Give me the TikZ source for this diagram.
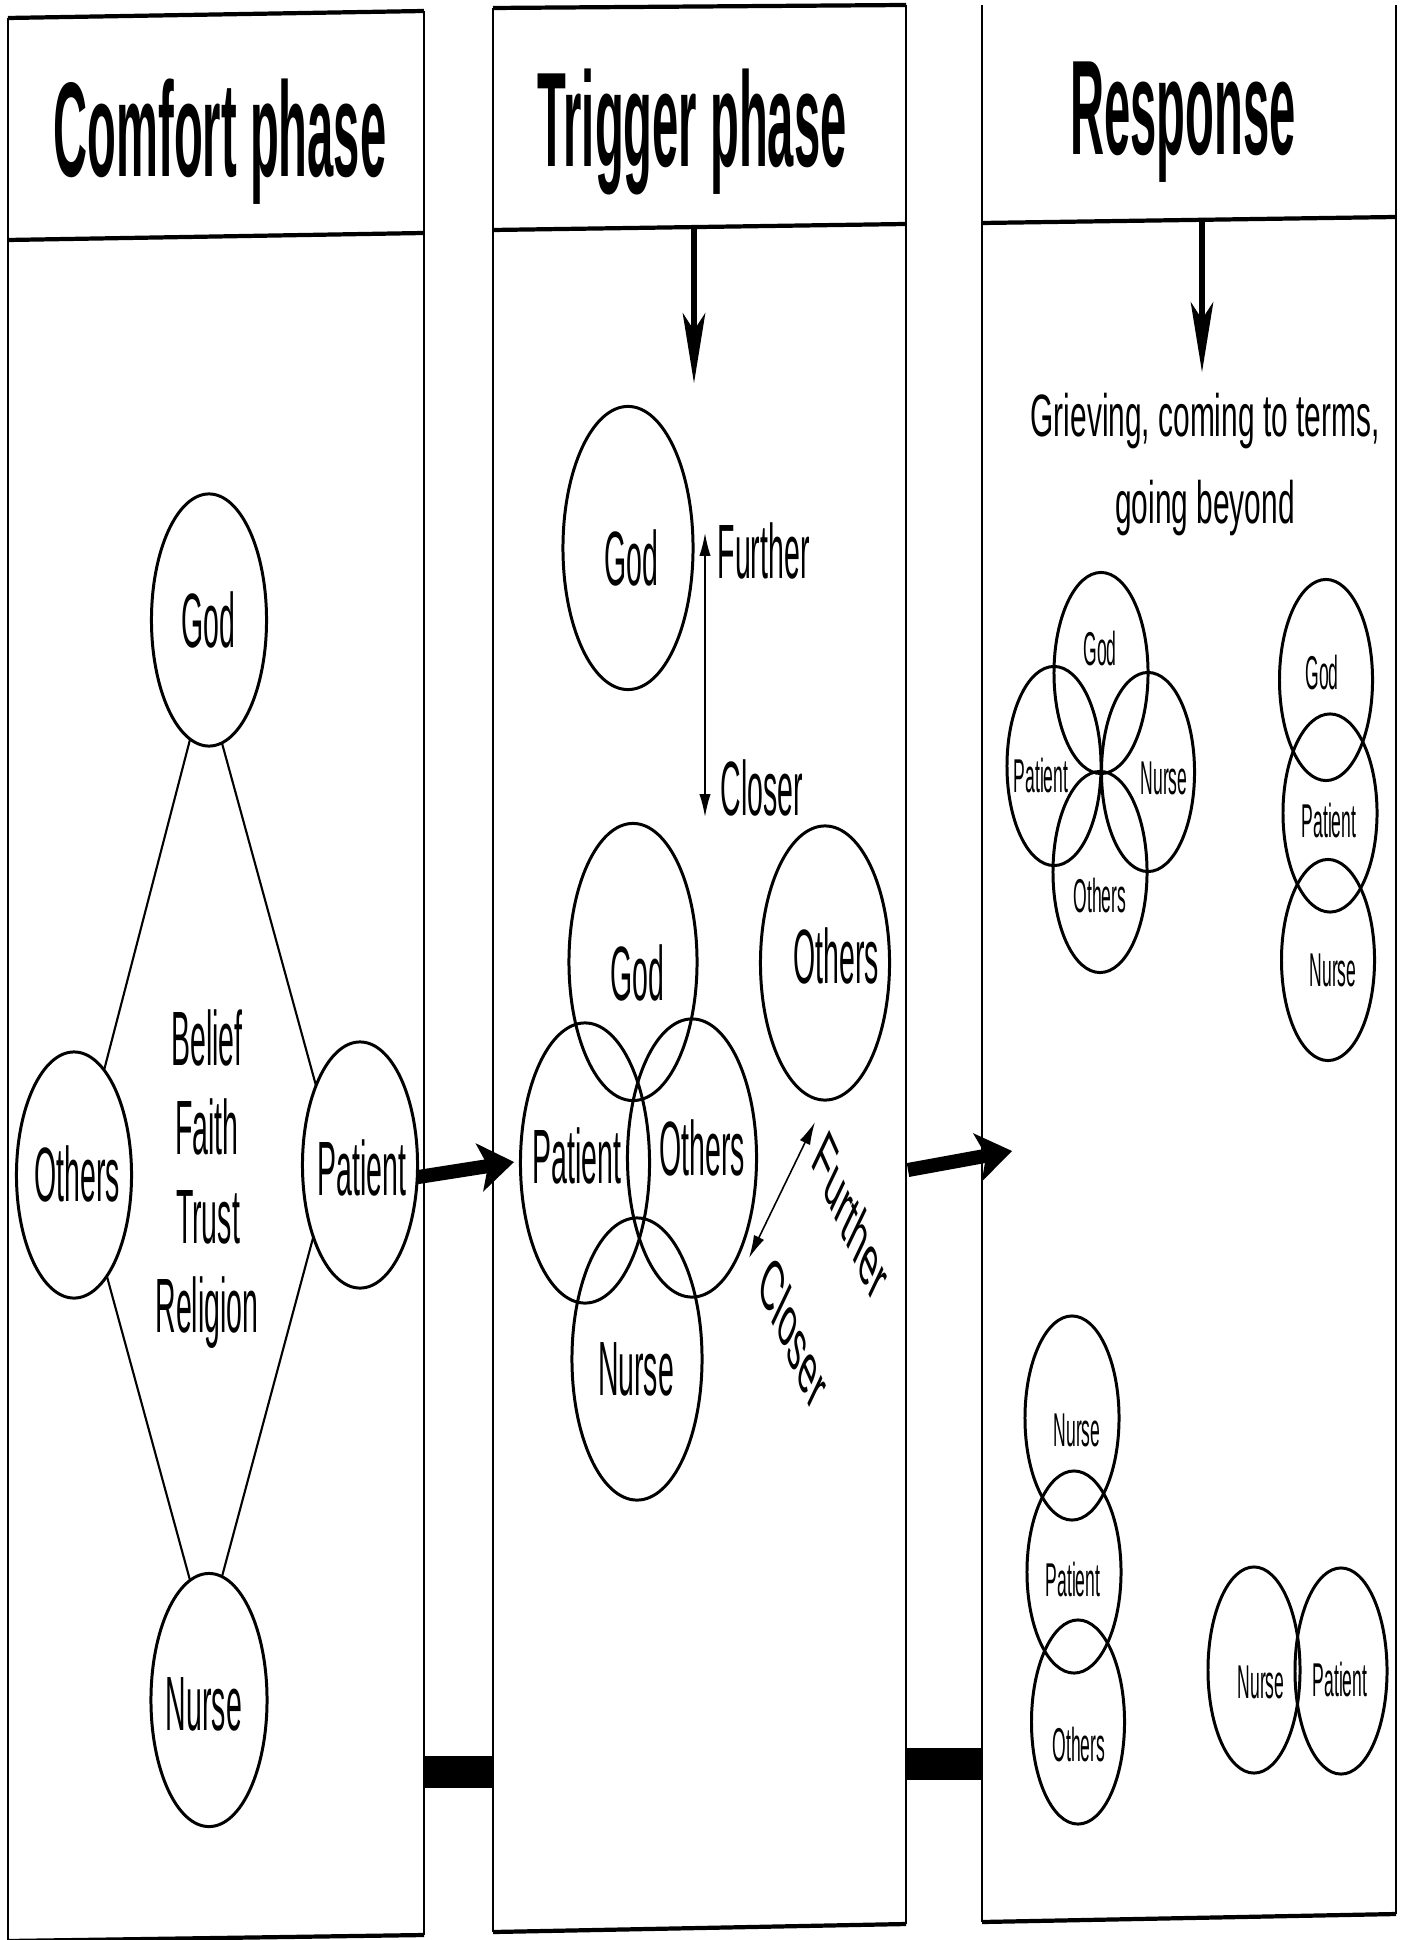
\documentclass[tikz,border=0pt]{standalone}
\usepackage{fontspec}
\usepackage{graphicx}
\usetikzlibrary{shapes.geometric, arrows.meta}
\newfontfamily\bodyf[FakeStretch=0.37]{Liberation Sans}
\newfontfamily\titlef[FakeStretch=0.35]{Liberation Sans}
\newfontfamily\grf[FakeStretch=0.5]{Liberation Sans}
\newfontfamily\rotf[FakeStretch=0.8]{Liberation Sans}
\begin{document}
\begin{tikzpicture}[x=0.01cm, y=-0.01cm,
  ell/.style n args={2}{ellipse, draw, line width=0.85pt, inner sep=0pt, outer sep=0pt,
      minimum width=#1cm, minimum height=#2cm},
  lbl/.style={font=\bodyf\fontsize{21.9}{26}\selectfont, inner sep=0pt, anchor=base},
  sm/.style={font=\bodyf\fontsize{13.5}{16}\selectfont, inner sep=0pt, anchor=base},
  ttl/.style={font=\titlef\bfseries\fontsize{38.3}{44}\selectfont, inner sep=0pt, anchor=base},
  grv/.style={font=\grf\fontsize{17}{20}\selectfont, inner sep=0pt, anchor=base},
  dline/.style={line width=0.6pt},
  vline/.style={line width=0.45pt},
  hline/.style={line width=1.2pt},
  dnarrow/.style={line width=1.7pt, -{Stealth[length=20pt, width=6.5pt, inset=5pt, line width=0pt]}},
  bigarrow/.style={line width=4pt, -{Stealth[length=10pt, width=14pt, inset=2.5pt, line width=0pt]}},
  dbl/.style={line width=0.45pt, {Latex[length=6.5pt, width=3.2pt]}-{Latex[length=6.5pt, width=3.2pt]}}
]
\useasboundingbox (0,0) rectangle (1406,1940);
\fill[white] (0,0) rectangle (1406,1940);

% ---------- panels ----------
\draw[vline] (8,18) -- (8,1941);
\draw[vline] (424,11) -- (424,1935);
\draw[hline] (8,18) -- (424,11);
\draw[hline] (8,240) -- (424,233);
\draw[hline] (8,1941) -- (424,1935);

\draw[vline] (493,8) -- (493,1932);
\draw[vline] (906,5) -- (906,1924);
\draw[hline] (493,8) -- (906,5);
\draw[hline] (493,230) -- (906,224);
\draw[hline] (493,1932) -- (906,1924);

\draw[vline] (982,5) -- (982,1922);
\draw[vline] (1396,5) -- (1396,1914);
\draw[hline] (982,223) -- (1396,217);
\draw[hline] (982,1922) -- (1396,1914);

\fill (424,1756) rectangle (493,1788);
\fill (906,1748) rectangle (982,1780);

% ---------- titles ----------
\node[ttl] (t1) at (220,177) {Comfort phase};
\node[ttl] (t2) at (692,167) {Trigger phase};
\node[ttl] (t3) at (1183,155) {Response};

% ---------- comfort phase ----------
\node[ell={1.15}{2.52}] (cGod) at (209,620) {};
\node[ell={1.15}{2.46}] (cOth) at (74,1175) {};
\node[ell={1.15}{2.46}] (cPat) at (360,1165) {};
\node[ell={1.16}{2.53}] (cNur) at (209,1700) {};
\node[lbl] (cGodT) at (208,647) {God};
\node[lbl] (cOthT) at (77,1201) {Others};
\node[lbl] (cPatT) at (362,1195) {Patient};
\node[lbl] (cNurT) at (204,1730) {Nurse};
\node[lbl] (b1) at (207,1065) {Belief};
\node[lbl] (b2) at (207,1154) {Faith};
\node[lbl] (b3) at (208,1243) {Trust};
\node[lbl] (b4) at (207,1332) {Religion};
\draw[dline] (cGod.261) -- (cOth.74);
\draw[dline] (cGod.-84) -- (cPat.119);
\draw[dline] (cOth.-72) -- (cNur.99);
\draw[dline] (cPat.237) -- (cNur.84);

\coordinate (b1e) at (514,1162);
\draw[bigarrow] (cPat.-12) -- (b1e);

% ---------- trigger phase ----------
\coordinate (a1s) at (694,228);
\coordinate (a1e) at (694,383);
\draw[dnarrow] (a1s) -- (a1e);

\node[ell={1.30}{2.83}] (tGod1) at (628,548) {};
\node[lbl] (tGod1T) at (631,585) {God};
\coordinate (fa1) at (705,533);
\coordinate (fa2) at (705,817);
\draw[dbl] (fa1) -- (fa2);
\node[lbl, anchor=base west] (fur1) at (717,579) {Further};
\node[lbl, anchor=base west] (clo1) at (720,815) {Closer};

\node[ell={1.28}{2.77}] (tGod2) at (633,962) {};
\node[ell={1.29}{2.74}] (tOthR) at (825,963) {};
\node[ell={1.29}{2.80}] (tPat) at (585,1163) {};
\node[ell={1.29}{2.78}] (tOth) at (692,1158) {};
\node[ell={1.30}{2.82}] (tNur) at (637,1359) {};
\node[lbl] (tGod2T) at (637,1000) {God};
\node[lbl] (tOthRT) at (836,983) {Others};
\node[lbl] (tPatT) at (577,1183) {Patient};
\node[lbl] (tOthT) at (702,1175) {Others};
\node[lbl] (tNurT) at (636,1395) {Nurse};

\coordinate (fb1) at (815,1122);
\coordinate (fb2) at (749,1258);
\draw[dbl] (fb1) -- (fb2);
\node[inner sep=0pt] (fur2) at (851,1216) {\scalebox{0.46}[1]{\rotatebox{-46}{\rotf\fontsize{21.9}{26}\selectfont Further}}};
\node[inner sep=0pt] (clo2) at (794,1332) {\scalebox{0.46}[1]{\rotatebox{-46}{\rotf\fontsize{21.9}{26}\selectfont Closer}}};

\coordinate (b2s) at (908,1170);
\coordinate (b2e) at (1012,1151);
\draw[bigarrow] (b2s) -- (b2e);

% ---------- response ----------
\coordinate (a2s) at (1202,220);
\coordinate (a2e) at (1202,372);
\draw[dnarrow] (a2s) -- (a2e);
\node[grv] (g1) at (1205,437) {Grieving, coming to terms,};
\node[grv] (g2) at (1205,524) {going beyond};

\node[ell={0.94}{2.01}] (rGod) at (1101,673) {};
\node[ell={0.94}{1.99}] (rPat) at (1054,766) {};
\node[ell={0.93}{1.99}] (rNur) at (1148,772) {};
\node[ell={0.94}{2.01}] (rOth) at (1100,872) {};
\node[sm] (rGodT) at (1100,665) {God};
\node[sm] (rPatT) at (1041,792) {Patient};
\node[sm] (rNurT) at (1164,794) {Nurse};
\node[sm] (rOthT) at (1100,912) {Others};

\node[ell={0.93}{2.01}] (sGod) at (1326,680) {};
\node[ell={0.94}{1.98}] (sPat) at (1330,813) {};
\node[ell={0.93}{2.01}] (sNur) at (1328,960) {};
\node[sm] (sGodT) at (1322,689) {God};
\node[sm] (sPatT) at (1329,837) {Patient};
\node[sm] (sNurT) at (1333,986) {Nurse};

\node[ell={0.94}{2.04}] (uNur) at (1072,1418) {};
\node[ell={0.94}{2.02}] (uPat) at (1074,1572) {};
\node[ell={0.93}{2.04}] (uOth) at (1078,1722) {};
\node[sm] (uNurT) at (1077,1446) {Nurse};
\node[sm] (uPatT) at (1073,1596) {Patient};
\node[sm] (uOthT) at (1079,1761) {Others};

\node[ell={0.92}{2.06}] (pNur) at (1254,1670) {};
\node[ell={0.92}{2.06}] (pPat) at (1341,1671) {};
\node[sm] (pNurT) at (1261,1698) {Nurse};
\node[sm] (pPatT) at (1340,1696) {Patient};
\end{tikzpicture}
\end{document}
